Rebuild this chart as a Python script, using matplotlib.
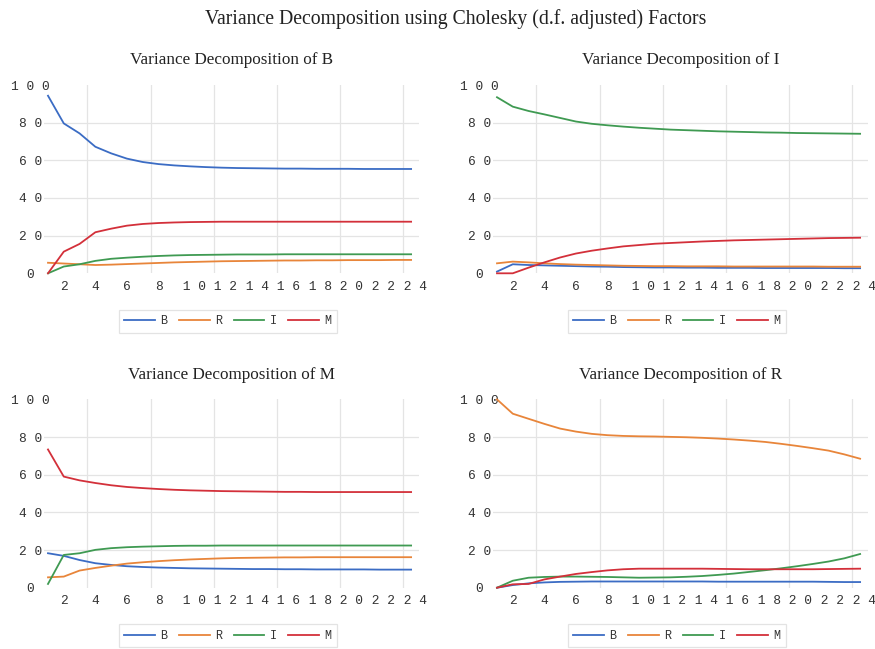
import matplotlib.pyplot as plt
import numpy as np

# forecast horizons
periods = list(range(1, 25))

# variance decomposition of B
b_B = [94.3, 79.6, 74.3, 67.2, 63.7, 60.9, 59.1, 58.0, 57.3, 56.8, 56.4, 56.1,
       55.9, 55.8, 55.7, 55.6, 55.6, 55.5, 55.5, 55.5, 55.4, 55.4, 55.4, 55.4]
b_R = [5.6, 5.2, 4.8, 4.4, 4.6, 4.9, 5.2, 5.5, 5.8, 6.0, 6.2, 6.4,
       6.5, 6.6, 6.7, 6.8, 6.8, 6.9, 6.9, 7.0, 7.0, 7.0, 7.1, 7.1]
b_I = [0.0, 3.6, 4.8, 6.6, 7.7, 8.3, 8.8, 9.2, 9.5, 9.7, 9.8, 9.9,
       10.0, 10.0, 10.0, 10.1, 10.1, 10.1, 10.1, 10.1, 10.1, 10.1, 10.1, 10.1]
b_M = [0.0, 11.5, 15.6, 21.8, 23.7, 25.3, 26.2, 26.7, 27.0, 27.2, 27.3, 27.4,
       27.4, 27.4, 27.4, 27.4, 27.4, 27.4, 27.4, 27.4, 27.4, 27.4, 27.4, 27.4]

# variance decomposition of I
i_B = [0.9, 4.8, 4.4, 4.2, 4.0, 3.8, 3.6, 3.5, 3.3, 3.2, 3.1, 3.1,
       3.0, 3.0, 2.9, 2.9, 2.9, 2.8, 2.8, 2.8, 2.8, 2.8, 2.7, 2.7]
i_R = [5.3, 6.2, 5.8, 5.3, 4.9, 4.6, 4.4, 4.2, 4.0, 3.9, 3.8, 3.8,
       3.7, 3.7, 3.7, 3.6, 3.6, 3.6, 3.6, 3.6, 3.6, 3.5, 3.5, 3.5]
i_I = [93.5, 88.5, 86.2, 84.4, 82.5, 80.6, 79.4, 78.6, 77.9, 77.3, 76.8, 76.3,
       76.0, 75.7, 75.4, 75.2, 75.0, 74.8, 74.7, 74.5, 74.4, 74.3, 74.2, 74.1]
i_M = [0.0, 0.0, 3.0, 5.8, 8.4, 10.5, 12.0, 13.2, 14.3, 15.0, 15.7, 16.1,
       16.5, 16.9, 17.2, 17.5, 17.7, 17.9, 18.1, 18.3, 18.5, 18.7, 18.8, 18.9]

# variance decomposition of M
m_B = [18.3, 16.9, 14.7, 13.0, 12.1, 11.4, 11.0, 10.7, 10.5, 10.3, 10.2, 10.1,
       10.0, 9.9, 9.9, 9.8, 9.8, 9.7, 9.7, 9.7, 9.7, 9.6, 9.6, 9.6]
m_R = [5.5, 5.9, 9.1, 10.5, 11.7, 12.8, 13.5, 14.1, 14.6, 15.0, 15.3, 15.6,
       15.8, 15.9, 16.0, 16.1, 16.1, 16.2, 16.2, 16.2, 16.2, 16.2, 16.2, 16.2]
m_I = [2.0, 17.4, 18.3, 20.1, 21.0, 21.5, 21.8, 22.0, 22.2, 22.3, 22.3, 22.4,
       22.4, 22.4, 22.4, 22.4, 22.4, 22.4, 22.4, 22.4, 22.4, 22.4, 22.4, 22.4]
m_M = [73.4, 59.0, 57.0, 55.6, 54.4, 53.5, 52.9, 52.4, 52.0, 51.7, 51.5, 51.3,
       51.2, 51.1, 51.0, 50.9, 50.9, 50.8, 50.8, 50.8, 50.8, 50.8, 50.8, 50.8]

# variance decomposition of R
r_B = [0.0, 1.4, 2.3, 2.8, 3.1, 3.2, 3.3, 3.3, 3.3, 3.3, 3.3, 3.3,
       3.3, 3.3, 3.2, 3.2, 3.2, 3.2, 3.2, 3.2, 3.2, 3.1, 3.0, 3.0]
r_R = [100.0, 92.4, 89.7, 87.0, 84.5, 82.9, 81.7, 81.0, 80.6, 80.4, 80.3, 80.1,
       79.9, 79.6, 79.2, 78.7, 78.1, 77.4, 76.4, 75.3, 74.1, 72.8, 70.8, 68.5]
r_I = [0.0, 3.7, 5.3, 5.7, 5.9, 5.9, 5.8, 5.7, 5.5, 5.3, 5.4, 5.5,
       5.8, 6.2, 6.8, 7.5, 8.4, 9.3, 10.3, 11.4, 12.6, 13.9, 15.6, 17.9]
r_M = [0.0, 1.8, 2.0, 4.4, 5.9, 7.3, 8.3, 9.2, 9.8, 10.1, 10.1, 10.1,
       10.1, 10.1, 10.0, 9.9, 9.8, 9.8, 9.8, 9.8, 9.8, 9.9, 10.0, 10.1]

series_names = ["B", "R", "I", "M"]
colors = ["#3b6cc4", "#e8853a", "#3f9a52", "#d3303a"]

panels = [
    ("Variance Decomposition of B", [b_B, b_R, b_I, b_M]),
    ("Variance Decomposition of I", [i_B, i_R, i_I, i_M]),
    ("Variance Decomposition of M", [m_B, m_R, m_I, m_M]),
    ("Variance Decomposition of R", [r_B, r_R, r_I, r_M]),
]

W, H = 875, 649
rects = [
    [44 / W, 1 - 273.3 / H, 375 / W, 188.3 / H],
    [493 / W, 1 - 273.3 / H, 375 / W, 188.3 / H],
    [44 / W, 1 - 587.7 / H, 375 / W, 188.3 / H],
    [493 / W, 1 - 587.7 / H, 375 / W, 188.3 / H],
]

mono = "Liberation Mono"
serif = "Liberation Serif"
grid_col = "#e4e4e4"


def spaced(n):
    # digits spread apart, shifted right like the original renderer does
    s = str(n)
    return " " * (len(s) - 1) + " ".join(s)


fig = plt.figure(figsize=(W / 100, H / 100), dpi=100)

for rect, (title, vals) in zip(rects, panels):
    ax = fig.add_axes(rect)
    for name, v, c in zip(series_names, vals, colors):
        ax.plot(periods, v, color=c, lw=1.3, label=name, clip_on=False, zorder=3)

    ax.set_xlim(0.747, 24.5)
    ax.set_ylim(0, 100)

    xt = list(range(2, 25, 2))
    ax.set_xticks(xt)
    ax.set_xticklabels([spaced(t) for t in xt], fontfamily=mono, fontsize=9.3, color="#333333")
    ax.set_xticks(np.arange(3.5, 24, 4), minor=True)

    yt = list(range(0, 101, 20))
    ax.set_yticks(yt)
    ax.set_yticklabels([" ".join(str(t)) for t in yt], fontfamily=mono, fontsize=9.3, color="#333333")
    ax.yaxis.remove_overlapping_locs = False
    ax.set_yticks([20, 40, 60, 80], minor=True)
    for lab in ax.get_yticklabels():
        lab.set_ha("center")

    ax.tick_params(axis="both", which="both", length=0)
    ax.tick_params(axis="y", pad=9.7)
    ax.tick_params(axis="x", pad=5.5)
    ax.grid(False)
    ax.grid(True, which="minor", color=grid_col, lw=0.9)
    for sp in ax.spines.values():
        sp.set_visible(False)

    ax.set_title(title, fontfamily=serif, fontsize=12.3, color="#222222", pad=15)

    leg = ax.legend(loc="upper center", bbox_to_anchor=(0.49, -0.195), ncol=4,
                    frameon=True, fancybox=False, prop={"family": mono, "size": 8.5},
                    handlelength=2.6, handletextpad=0.45, columnspacing=1.0,
                    borderpad=0.45, borderaxespad=0)
    leg.get_frame().set_edgecolor("#dddddd")
    leg.get_frame().set_linewidth(0.9)
    for t in leg.get_texts():
        t.set_color("#333333")

fig.text(456 / W, 1 - 24 / H, "Variance Decomposition using Cholesky (d.f. adjusted) Factors",
         ha="center", va="baseline", fontfamily=serif, fontsize=14.2, color="#222222")

fig.savefig("out.png", dpi=100)
